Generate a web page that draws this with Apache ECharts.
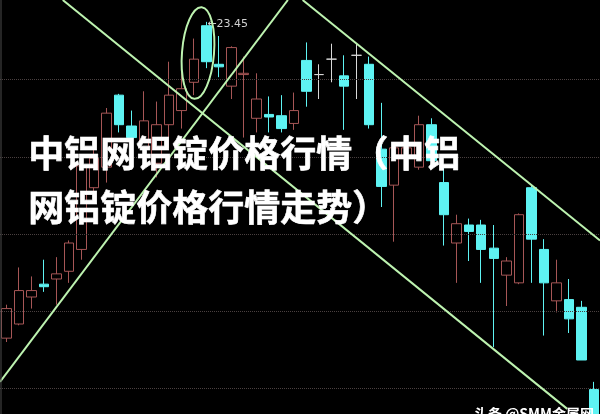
<!DOCTYPE html>
<html><head><meta charset="utf-8">
<script src="https://cdn.jsdelivr.net/npm/echarts@6/dist/echarts.min.js"></script>
<style>html,body{margin:0;padding:0;background:#000}#c{width:600px;height:414px}</style>
</head><body><div id="c"></div>
<script>
const categories = ["1","2","3","4","5","6","7","8","9","10","11","12","13","14","15","16","17","18","19","20","21","22","23","24","25","26","27","28","29","30","31","32","33","34","35","36","37","38","39","40","41","42","43","44","45","46","47","48"];
const opens  = [20.99,21.10,21.31,21.41,21.45,21.51,21.68,22.16,22.32,22.88,22.64,22.47,22.35,22.65,22.76,22.98,23.42,23.12,22.95,23.04,22.70,22.73,22.72,22.66,23.15,23.04,23.16,23.03,23.19,23.12,22.46,22.18,22.39,22.32,22.65,22.20,21.73,21.87,21.87,21.69,21.48,21.42,22.16,21.68,21.28,21.29,21.23,20.59];
const closes = [21.22,21.36,21.36,21.39,21.49,21.73,22.33,22.39,22.74,22.65,22.55,22.68,22.65,22.88,22.93,23.16,23.14,23.10,23.25,23.05,22.85,22.71,22.62,22.76,22.91,23.04,23.16,22.95,23.19,22.65,22.17,22.47,22.47,22.65,22.37,21.95,21.88,21.82,21.68,21.61,21.59,21.95,21.76,21.42,21.42,21.14,20.82,20.35];
const lows   = [20.96,21.09,21.22,21.35,21.25,21.42,21.60,22.05,22.20,22.59,22.47,22.35,22.24,22.47,22.62,22.88,23.09,23.02,22.85,22.55,22.59,22.59,22.59,22.61,22.79,22.85,22.98,22.61,22.85,22.62,22.01,21.74,22.30,22.30,22.33,21.71,21.42,21.59,21.42,20.92,21.24,21.41,21.42,21.01,21.19,21.03,20.82,20.35];
const highs  = [21.25,21.54,21.47,21.60,21.62,21.75,22.39,22.47,22.78,22.89,22.76,22.91,22.83,23.14,23.06,23.32,23.45,23.34,23.26,23.18,23.05,22.87,22.88,22.90,23.29,23.12,23.28,23.19,23.28,23.18,22.82,22.49,22.55,22.72,22.70,22.34,21.95,21.92,21.91,21.87,21.62,21.96,22.18,21.76,21.60,21.45,21.28,20.65];
const gridLevels = [20.6, 21.2, 21.8, 22.4, 23.0];
const peakLabel = "←23.45";
const lineA = [[4.52, 23.62], [44.88, 20.44]];
const lineB = [[-0.5, 20.65], [22.53, 23.62]];
const lineC = [[23.71, 23.62], [47.5, 21.75]];
const titleLine1 = "中铝网铝锭价格行情（中铝";
const titleLine2 = "网铝锭价格行情走势）";
const watermark = "头条 @SMM金属网";

const kData = opens.map((o, i) => [o, closes[i], lows[i], highs[i]]);
const GREEN = '#bdf3b0';
const chart = echarts.init(document.getElementById('c'), null, {renderer: 'canvas'});
const trend = (d) => ({
  type: 'line', xAxisIndex: 1, yAxisIndex: 0, data: d, symbol: 'none',
  lineStyle: {color: GREEN, width: 2}, silent: true, animation: false, z: 5
});
const titleStyle = (t) => ({text: t, fill: '#fff', stroke: '#fff', lineWidth: 0.6,
  font: 'bold 36px "Noto Sans CJK SC"', shadowColor: 'rgba(0,0,0,0.9)', shadowBlur: 4});
chart.setOption({
  backgroundColor: '#000',
  animation: false,
  grid: {left: -6.5, right: -1.2, top: 0, bottom: -5, containLabel: false},
  xAxis: [
    {type: 'category', data: categories, boundaryGap: true, show: false},
    {type: 'value', min: -0.5, max: 47.5, show: false}
  ],
  yAxis: {type: 'value', min: 20.4, max: 23.62, show: false, splitLine: {show: false}},
  series: [
    {
      type: 'candlestick', data: kData, barWidth: 10, z: 3,
      itemStyle: {
        color: '#000', color0: '#5ef3f3',
        borderColor: '#a65656', borderColor0: '#5ef3f3',
        borderColorDoji: '#d8d8d8', borderWidth: 1
      },
      markLine: {
        silent: true, symbol: ['none', 'none'], label: {show: false},
        lineStyle: {color: '#4a4040', type: 'dotted', width: 1},
        data: gridLevels.map(v => ({yAxis: v}))
      },
      markPoint: {
        silent: true,
        data: [{
          coord: [categories[16], highs[16]], symbol: 'circle', symbolSize: 0,
          label: {show: true, position: 'right', distance: 1, formatter: peakLabel,
                  color: '#d0d0d0', fontSize: 11, fontFamily: 'DejaVu Sans', offset: [0, 2]}
        }]
      }
    },
    trend(lineA), trend(lineB), trend(lineC)
  ],
  graphic: [
    {type: 'line', shape: {x1: 1, y1: 0, x2: 1, y2: 414}, style: {stroke: '#4a4a4a', lineWidth: 1}, silent: true, z: 10},
    {type: 'ellipse', x: 198, y: 53, rotation: -0.08, shape: {cx: 0, cy: 0, rx: 16, ry: 46},
     style: {fill: 'none', stroke: GREEN, lineWidth: 2}, silent: true, z: 10},
    {type: 'text', left: 28, top: 135, z: 20, silent: true, style: titleStyle(titleLine1)},
    {type: 'text', left: 28, top: 189, z: 20, silent: true, style: titleStyle(titleLine2)},
    {type: 'text', left: 474, top: 407, z: 20, silent: true,
     style: {text: watermark, fill: '#fff', font: 'bold 14px "Noto Sans CJK SC"'}}
  ]
});
</script>
</body></html>
